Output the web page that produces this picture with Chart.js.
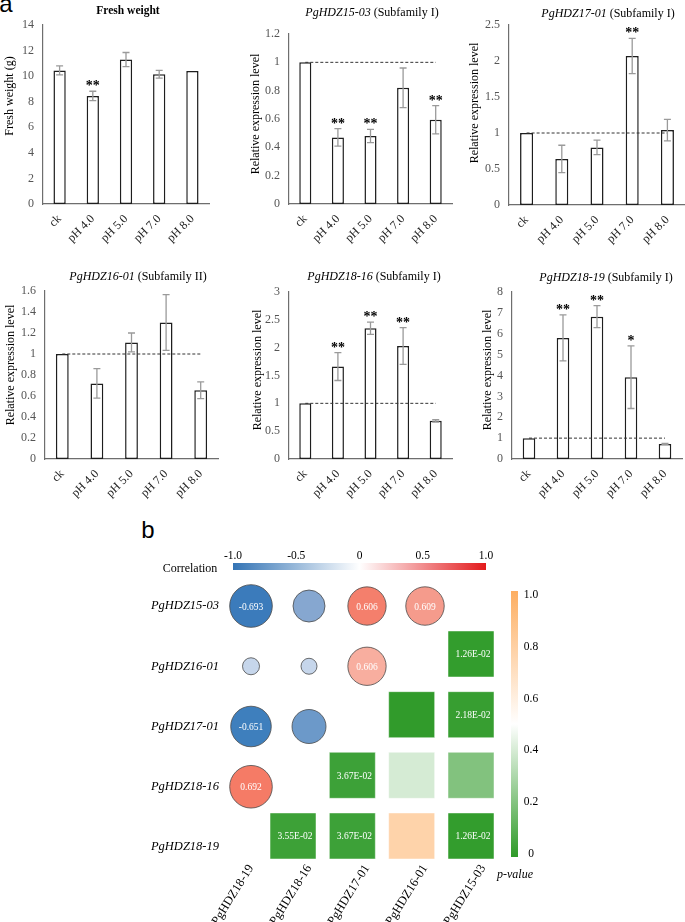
<!DOCTYPE html>
<html>
<head>
<meta charset="utf-8">
<script src="https://cdn.jsdelivr.net/npm/chart.js@4.4.1/dist/chart.umd.min.js"></script>
<style>
  body { margin: 0; background: #fff; }
  #wrap { position: relative; width: 685px; height: 922px; overflow: hidden; font-family: "Liberation Serif", "Times New Roman", serif; color: #000; }
  canvas { position: absolute; }
  .t { position: absolute; white-space: nowrap; font-size: 12px; line-height: 14px; transform: translate(-50%, -50%); }
  .yt { position: absolute; white-space: nowrap; font-size: 12px; line-height: 14px; transform: translate(-50%, -50%) rotate(-90deg); }
  .panel { position: absolute; font-family: "Liberation Sans", Arial, sans-serif; font-size: 24px; line-height: 24px; transform: translate(-50%, -50%); }
</style>
</head>
<body>
<div id="wrap">
  <div class="panel" style="left:6px;top:4px">a</div>
  <div class="panel" style="left:148px;top:530px">b</div>

  <canvas id="fw" width="228" height="270" style="left:0;top:0"></canvas>
  <canvas id="g1503" width="228" height="270" style="left:228px;top:0"></canvas>
  <canvas id="g1701" width="232" height="270" style="left:456px;top:0"></canvas>
  <canvas id="g1601" width="228" height="270" style="left:0;top:270px"></canvas>
  <canvas id="g1816" width="228" height="270" style="left:228px;top:270px"></canvas>
  <canvas id="g1819" width="232" height="270" style="left:456px;top:270px"></canvas>
  <canvas id="corr" width="685" height="382" style="left:0;top:540px"></canvas>

  <div class="t" style="left:128px;top:10px;font-weight:bold;font-size:11.5px">Fresh weight</div>
  <div class="t" style="left:372px;top:12px"><i>PgHDZ15-03</i> (Subfamily I)</div>
  <div class="t" style="left:608px;top:13px"><i>PgHDZ17-01</i> (Subfamily I)</div>
  <div class="t" style="left:138px;top:276px"><i>PgHDZ16-01</i> (Subfamily II)</div>
  <div class="t" style="left:374px;top:276px"><i>PgHDZ18-16</i> (Subfamily I)</div>
  <div class="t" style="left:606px;top:277px"><i>PgHDZ18-19</i> (Subfamily I)</div>

  <div class="yt" style="left:9px;top:96px">Fresh weight (g)</div>
  <div class="yt" style="left:255px;top:114px">Relative expression level</div>
  <div class="yt" style="left:474px;top:103px">Relative expression level</div>
  <div class="yt" style="left:10px;top:365px">Relative expression level</div>
  <div class="yt" style="left:257px;top:370px">Relative expression level</div>
  <div class="yt" style="left:487px;top:370px">Relative expression level</div>
</div>

<script>
// ---- panel a data ----
const groups = ['ck', 'pH 4.0', 'pH 5.0', 'pH 7.0', 'pH 8.0'];

const freshWeight    = [10.45, 8.45, 11.3, 10.15, 10.4];
const freshWeightErr = [0.35, 0.37, 0.55, 0.3, 0];
const freshWeightSig = ['', '**', '', '', ''];

const hdz1503    = [1, 0.47, 0.48, 0.82, 0.595];
const hdz1503Err = [0, 0.062, 0.047, 0.14, 0.1];
const hdz1503Sig = ['', '**', '**', '', '**'];

const hdz1701    = [1, 0.64, 0.8, 2.07, 1.04];
const hdz1701Err = [0, 0.19, 0.1, 0.245, 0.15];
const hdz1701Sig = ['', '', '', '**', ''];

const hdz1601    = [1, 0.72, 1.11, 1.3, 0.655];
const hdz1601Err = [0, 0.14, 0.09, 0.265, 0.08];
const hdz1601Sig = ['', '', '', '', ''];

const hdz1816    = [1, 1.66, 2.35, 2.03, 0.685];
const hdz1816Err = [0, 0.25, 0.11, 0.33, 0.02];
const hdz1816Sig = ['', '**', '**', '**', ''];

const hdz1819    = [1, 5.8, 6.82, 3.92, 0.72];
const hdz1819Err = [0, 1.1, 0.53, 1.5, 0.03];
const hdz1819Sig = ['', '**', '**', '*', ''];

const refLevel = 1;

// ---- panel b data ----
const rowGenes = ['PgHDZ15-03', 'PgHDZ16-01', 'PgHDZ17-01', 'PgHDZ18-16', 'PgHDZ18-19'];
const colGenes = ['PgHDZ18-19', 'PgHDZ18-16', 'PgHDZ17-01', 'PgHDZ16-01', 'PgHDZ15-03'];

const circleRow = [1, 1, 1, 1, 2, 2, 2, 3, 3, 4];
const circleCol = [1, 2, 3, 4, 1, 2, 3, 1, 2, 1];
const circleR   = [-0.693, -0.48, 0.606, 0.609, -0.18, -0.16, 0.606, -0.651, -0.52, 0.692];

const squareRow  = [2, 3, 3, 4, 4, 4, 5, 5, 5, 5];
const squareCol  = [5, 4, 5, 3, 4, 5, 2, 3, 4, 5];
const squareP    = [0.0126, 0.006, 0.0218, 0.0367, 0.40, 0.20, 0.0355, 0.0367, 0.77, 0.0126];
const squareText = ['1.26E-02', '', '2.18E-02', '3.67E-02', '', '', '3.55E-02', '3.67E-02', '', '1.26E-02'];

const corrTickValues = [-1, -0.5, 0, 0.5, 1];
const corrTickLabels = ['-1.0', '-0.5', '0', '0.5', '1.0'];
const pTickValues = [1, 0.8, 0.6, 0.4, 0.2, 0];
const pTickLabels = ['1.0', '0.8', '0.6', '0.4', '0.2', '0'];

// ---- styles ----
const SERIF = '"Liberation Serif", "Times New Roman", serif';
const circleFill = ['#3b7bbb', '#86a7d0', '#f47f6c', '#f59b8c', '#c6d6eb', '#c6d6eb', '#f8ae9f', '#3e7fbd', '#6c99c9', '#f57b66'];

// canvas rect [x, y, w, h] and plot area [left, top, right, bottom], absolute px
const barLayouts = {
  fw:    { canvas: [0, 0, 228, 270],     area: [43, 25, 209, 204],  max: 14,  step: 2,   ref: false },
  g1503: { canvas: [228, 0, 228, 270],   area: [289, 34, 452, 204], max: 1.2, step: 0.2, ref: true },
  g1701: { canvas: [456, 0, 232, 270],   area: [509, 25, 685, 205], max: 2.5, step: 0.5, ref: true },
  g1601: { canvas: [0, 270, 228, 270],   area: [45, 291, 218, 459], max: 1.6, step: 0.2, ref: true },
  g1816: { canvas: [228, 270, 228, 270], area: [289, 292, 452, 459], max: 3,  step: 0.5, ref: true },
  g1819: { canvas: [456, 270, 232, 270], area: [512, 292, 682, 459], max: 8,  step: 1,   ref: true }
};

// 🔹 error bars + significance stars
const errorBarPlugin = {
  id: 'errorBars',
  afterDatasetsDraw(chart, args, opts) {
    const { ctx } = chart;
    const ys = chart.scales.y;
    const vals = chart.data.datasets[0].data;
    const bars = chart.getDatasetMeta(0).data;
    ctx.save();
    bars.forEach((bar, i) => {
      const e = opts.errors[i];
      const hi = ys.getPixelForValue(vals[i] + e);
      if (e > 0) {
        const lo = ys.getPixelForValue(vals[i] - e);
        ctx.strokeStyle = '#9a9a9a';
        ctx.lineWidth = 1.3;
        ctx.beginPath();
        ctx.moveTo(bar.x, hi); ctx.lineTo(bar.x, lo);
        ctx.moveTo(bar.x - 3.5, hi); ctx.lineTo(bar.x + 3.5, hi);
        ctx.moveTo(bar.x - 3.5, lo); ctx.lineTo(bar.x + 3.5, lo);
        ctx.stroke();
      }
      if (opts.stars[i]) {
        ctx.fillStyle = '#000';
        ctx.font = 'bold 14px ' + SERIF;
        ctx.textAlign = 'center';
        ctx.textBaseline = 'alphabetic';
        ctx.fillText(opts.stars[i], bar.x, hi - 1);
      }
    });
    ctx.restore();
  }
};

function makeBarChart(id, values, errors, stars) {
  const lay = barLayouts[id];
  const [cx, cy, cw, ch] = lay.canvas;
  const [l, t, r, b] = lay.area;
  const datasets = [{
    type: 'bar',
    data: values,
    backgroundColor: '#ffffff',
    borderColor: '#1e1e1e',
    borderWidth: 1.5,
    borderSkipped: false,
    barPercentage: 0.37,
    categoryPercentage: 1,
    order: 1
  }];
  if (lay.ref) {
    datasets.push({
      type: 'line',
      data: groups.map(() => refLevel),
      borderColor: '#333',
      borderWidth: 1,
      borderDash: [3, 2],
      pointRadius: 0,
      order: 0
    });
  }
  const axisBorder = { color: '#6e6e6e', width: 1.2 };
  return new Chart(document.getElementById(id), {
    type: 'bar',
    data: { labels: groups, datasets },
    options: {
      responsive: false,
      animation: false,
      events: [],
      layout: { padding: { top: t - cy, right: cx + cw - r, left: 0, bottom: 0 } },
      plugins: {
        legend: { display: false },
        tooltip: { enabled: false },
        errorBars: { errors, stars }
      },
      scales: {
        x: {
          grid: { display: false, drawTicks: false },
          border: axisBorder,
          ticks: { color: '#222', font: { family: SERIF, size: 12 }, minRotation: 45, maxRotation: 45, padding: 8, autoSkip: false },
          afterFit: s => { s.height = cy + ch - b; }
        },
        y: {
          min: 0,
          max: lay.max,
          grid: { display: false, drawTicks: false },
          border: axisBorder,
          ticks: { stepSize: lay.step, color: '#555', font: { family: SERIF, size: 12 }, padding: 9, callback: v => String(+v.toFixed(2)) },
          afterFit: s => { s.width = l - cx; }
        }
      }
    },
    plugins: [errorBarPlugin]
  });
}

makeBarChart('fw', freshWeight, freshWeightErr, freshWeightSig);
makeBarChart('g1503', hdz1503, hdz1503Err, hdz1503Sig);
makeBarChart('g1701', hdz1701, hdz1701Err, hdz1701Sig);
makeBarChart('g1601', hdz1601, hdz1601Err, hdz1601Sig);
makeBarChart('g1816', hdz1816, hdz1816Err, hdz1816Sig);
makeBarChart('g1819', hdz1819, hdz1819Err, hdz1819Sig);

// ---- panel b ----
function mix(a, b, t) { return a.map((v, i) => Math.round(v + (b[i] - v) * t)); }
const P_GREEN = [46, 154, 40], P_WHITE = [255, 255, 255], P_ORANGE = [253, 174, 97];
function pColor(p) {
  const c = p <= 0.5 ? mix(P_GREEN, P_WHITE, p / 0.5) : mix(P_WHITE, P_ORANGE, (p - 0.5) / 0.5);
  return `rgb(${c.join(',')})`;
}

const corrPlugin = {
  id: 'corrDecor',
  afterDatasetsDraw(chart) {
    const { ctx } = chart;
    ctx.save();
    ctx.fillStyle = '#fff';
    ctx.font = '9.5px ' + SERIF;
    ctx.textAlign = 'center';
    ctx.textBaseline = 'middle';
    const sq = chart.getDatasetMeta(0).data;
    squareText.forEach((txt, i) => { if (txt) ctx.fillText(txt, sq[i].x + 2, sq[i].y + 1); });
    const ci = chart.getDatasetMeta(1).data;
    circleR.forEach((v, i) => { if (Math.abs(v) >= 0.6) ctx.fillText(v.toFixed(3), ci[i].x, ci[i].y + 1); });
    ctx.restore();
  },
  afterDraw(chart) {
    const { ctx } = chart;
    ctx.save();
    // correlation colour bar
    const cbx = 233, cbw = 253, cby = 23, cbh = 7;
    const g = ctx.createLinearGradient(cbx, 0, cbx + cbw, 0);
    g.addColorStop(0, '#3474b5');
    g.addColorStop(0.5, '#ffffff');
    g.addColorStop(1, '#e31a1c');
    ctx.fillStyle = g;
    ctx.fillRect(cbx, cby, cbw, cbh);
    ctx.fillStyle = '#000';
    ctx.font = '11.5px ' + SERIF;
    ctx.textAlign = 'center';
    ctx.textBaseline = 'middle';
    corrTickValues.forEach((v, i) => ctx.fillText(corrTickLabels[i], cbx + (v + 1) / 2 * cbw, 16));
    ctx.font = '12px ' + SERIF;
    ctx.fillText('Correlation', 190, 29);

    // p-value colour bar
    const px = 511, pw = 7, py = 51, ph = 266;
    const pg = ctx.createLinearGradient(0, py, 0, py + ph);
    pg.addColorStop(0, 'rgb(' + P_ORANGE.join(',') + ')');
    pg.addColorStop(0.5, '#ffffff');
    pg.addColorStop(1, 'rgb(' + P_GREEN.join(',') + ')');
    ctx.fillStyle = pg;
    ctx.fillRect(px, py, pw, ph);
    ctx.fillStyle = '#000';
    ctx.font = '11.5px ' + SERIF;
    pTickValues.forEach((v, i) => ctx.fillText(pTickLabels[i], 531, 314 - v * 259));
    ctx.font = 'italic 12px ' + SERIF;
    ctx.fillText('p-value', 515, 335);
    ctx.restore();
  }
};

new Chart(document.getElementById('corr'), {
  type: 'scatter',
  data: {
    datasets: [
      {
        xAxisID: 'x2',
        yAxisID: 'y2',
        data: squareCol.map((c, i) => ({ x: c, y: squareRow[i] })),
        pointStyle: 'rect',
        pointRadius: 32.5,
        pointBackgroundColor: squareP.map(pColor),
        pointBorderColor: 'rgba(255,255,255,0.45)',
        pointBorderWidth: 1,
        clip: false
      },
      {
        xAxisID: 'x',
        yAxisID: 'y',
        data: circleCol.map((c, i) => ({ x: c, y: circleRow[i] })),
        pointStyle: 'circle',
        pointRadius: circleR.map(v => 4 + 25 * Math.abs(v)),
        pointBackgroundColor: circleFill,
        pointBorderColor: '#4a4a4a',
        pointBorderWidth: 0.8,
        clip: false
      }
    ]
  },
  options: {
    responsive: false,
    animation: false,
    events: [],
    layout: { padding: { top: 50, right: 173, left: 0, bottom: 0 } },
    plugins: { legend: { display: false }, tooltip: { enabled: false } },
    scales: {
      x: {
        type: 'linear', position: 'bottom', min: 0.5, max: 5.5,
        grid: { display: false, drawTicks: false },
        border: { display: false },
        afterBuildTicks: s => { s.ticks = colGenes.map((_, i) => ({ value: i + 1 })); },
        ticks: { color: '#000', font: { family: SERIF, size: 12.5 }, minRotation: 58, maxRotation: 58, padding: 2, autoSkip: false,
                 callback: v => colGenes[v - 1] },
        afterFit: s => { s.height = 62; }
      },
      y: {
        type: 'linear', position: 'left', min: 0.734, max: 5.216, reverse: true,
        grid: { display: false, drawTicks: false },
        border: { display: false },
        afterBuildTicks: s => { s.ticks = rowGenes.map((_, i) => ({ value: i + 1 })); },
        ticks: { color: '#000', font: { family: SERIF, size: 12.5, style: 'italic' }, padding: 3, autoSkip: false,
                 callback: v => rowGenes[v - 1] },
        afterFit: s => { s.width = 222; }
      },
      x2: { type: 'linear', axis: 'x', position: 'bottom', display: false, min: 0.803, max: 5.691 },
      y2: { type: 'linear', axis: 'y', position: 'left', display: false, min: 0.945, max: 5.396, reverse: true }
    }
  },
  plugins: [corrPlugin]
});
</script>
</body>
</html>
